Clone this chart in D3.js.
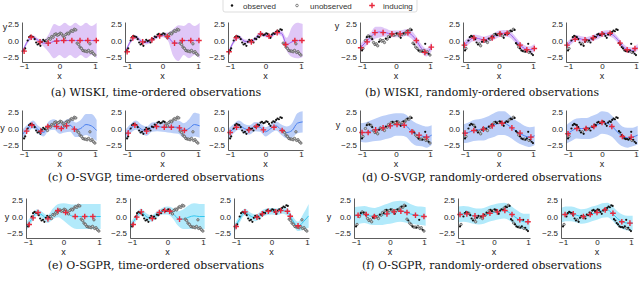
<!DOCTYPE html>
<html>
<head>
<meta charset="utf-8">
<script src="https://cdn.jsdelivr.net/npm/d3@7"></script>
<style>
  body { margin: 0; background: #fff; }
  svg { display: block; }
  .axis text { font-family: "Liberation Sans", Arial, sans-serif; font-size: 8px; fill: #222; }
  .axis path, .axis line { stroke: #333; stroke-width: 0.8; }
  .lab { font-family: "Liberation Sans", Arial, sans-serif; font-size: 9px; fill: #222; }
  .cap { font-family: "DejaVu Serif", serif; font-size: 10.5px; fill: #111; }
  .leg { font-family: "Liberation Sans", Arial, sans-serif; font-size: 8px; fill: #333; }
</style>
</head>
<body>
<svg id="chart" width="640" height="292"></svg>
<script>
const width = 640;
const height = 292;

// shared data set (x, y), sorted by x
const pointX = [-1.00,-0.97,-0.90,-0.86,-0.82,-0.78,-0.74,-0.70,-0.66,-0.62,-0.58,-0.54,-0.50,-0.46,-0.42,-0.38,-0.34,
  -0.30,-0.26,-0.22,-0.18,-0.14,-0.10,-0.06,-0.02,0.02,0.06,0.10,0.14,0.18,0.22,0.26,0.30,0.34,0.38,0.42,0.46,
  0.50,0.54,0.58,0.62,0.66,0.70,0.74,0.78,0.82,0.86,0.88,0.92,0.96,1.00];
const pointY = [-1.5,-1.2,0.0,0.5,0.7,0.6,0.5,0.2,-0.3,-0.6,-0.5,-0.8,-0.2,0.1,-0.1,0.0,-0.3,
  0.3,0.2,0.6,0.5,0.9,1.0,0.8,0.9,1.1,1.0,0.7,0.4,0.9,1.1,1.0,1.3,1.5,1.4,1.7,1.6,
  -0.4,-0.6,-1.0,-1.2,-1.5,-1.6,-1.6,-1.7,-1.5,-0.5,-1.8,-1.7,-2.0,-2.2];

// time-ordered panels: observed while x <= cutoff
const timeCutoffs = [-0.42, 0.08, 0.48];
// randomly-ordered panels: indices already observed
const randomObserved = [
  [0,3,5,7,12,17,20,22,25,28,30,33,36,38,41,44,46,49],
  [0,2,3,4,5,7,8,9,12,13,15,17,19,20,22,23,25,26,28,29,30,31,33,34,36,37,38,40,41,42,44,45,46,48,49,50],
  [0,2,3,4,5,6,7,8,9,11,12,13,15,16,17,18,19,20,21,22,23,24,25,26,27,28,29,30,31,32,33,34,35,36,37,38,39,40,41,42,43,44,45,46,48,49,50]
];

// posterior mean / band half-width at these x knots
const knotX = [-1.05,-0.9,-0.75,-0.6,-0.45,-0.3,-0.15,0,0.15,0.3,0.45,0.6,0.75,0.9,1.05];

const meanA = [
  [-1.8,-0.1,0.5,0.0,-0.4,-0.4,-0.1,0.0,0.0,0.0,0.0,0.0,0.0,0.0,0.0],
  [-1.8,-0.1,0.5,-0.1,-0.3,0.1,0.6,0.8,0.6,-0.3,-0.4,0.0,0.0,0.0,0.0],
  [-1.9,-0.2,0.5,-0.1,-0.2,0.2,1.0,0.8,0.6,1.2,1.1,-0.6,-0.2,0.0,0.0]];
const sdA = [
  [0.3,0.3,0.3,0.3,0.5,1.4,2.6,2.2,2.7,2.2,2.7,2.2,2.7,2.2,2.7],
  [0.3,0.3,0.3,0.3,0.3,0.3,0.3,0.3,0.6,2.0,2.7,2.2,2.7,2.2,2.7],
  [0.3,0.3,0.3,0.3,0.3,0.3,0.3,0.3,0.3,0.3,0.4,1.0,2.3,2.7,2.5]];
const meanB = [
  [-1.1,-0.3,0.5,1.2,1.3,1.2,1.0,1.0,1.05,1.2,0.9,0.0,-1.2,-1.8,-0.9],
  [-0.8,-0.1,0.4,0.3,0.1,0.3,0.6,1.0,1.1,1.0,0.3,-0.6,-1.2,-1.4,-1.1],
  [-0.8,-0.1,0.4,0.2,0.1,0.3,0.6,1.0,1.1,0.9,0.2,-0.8,-1.4,-1.5,-1.0]];
const sdB = [
  [0.6,0.6,0.7,0.9,0.8,0.6,0.5,0.5,0.5,0.5,0.6,0.6,0.6,0.6,0.7],
  [0.6,0.5,0.5,0.5,0.5,0.5,0.5,0.5,0.5,0.5,0.5,0.5,0.5,0.5,0.6],
  [0.5,0.45,0.45,0.45,0.45,0.45,0.45,0.45,0.45,0.45,0.45,0.45,0.45,0.45,0.5]];
const meanC = [
  [-0.9,0.0,0.6,-0.2,-0.6,0.4,0.6,0.0,0.3,0.5,-0.2,0.0,0.6,0.4,-0.3],
  [-1.0,0.0,0.5,-0.1,-0.4,0.2,0.3,0.2,0.2,0.2,0.2,-0.3,0.0,0.6,0.4],
  [-0.8,0.0,0.5,0.0,-0.2,0.3,0.2,-0.5,0.0,0.4,-0.2,-0.6,-0.3,0.8,1.0]];
const sdC = [
  [0.7,0.6,0.6,0.6,0.6,0.7,0.8,0.8,0.9,1.0,1.1,1.3,1.6,1.8,1.6],
  [0.8,0.7,0.7,0.7,0.7,0.7,0.7,0.7,0.8,0.9,1.0,1.1,1.4,1.8,1.8],
  [0.8,0.7,0.7,0.7,0.7,0.7,0.7,0.7,0.7,0.7,0.8,0.9,1.1,1.5,1.6]];
const meanD = [
  [-0.6,-0.6,-0.4,-0.2,0.0,0.2,0.4,0.6,0.6,0.4,-0.4,-0.9,-1.1,-1.3,-1.0],
  [-0.8,-0.6,-0.3,-0.2,-0.1,0.2,0.5,0.8,0.8,0.4,-0.2,-0.7,-1.1,-1.3,-1.1],
  [-0.9,-0.4,0.0,0.0,0.0,0.2,0.5,0.9,0.8,0.3,-0.5,-1.2,-1.4,-1.3,-1.0]];
const sdD = [
  [1.4,1.5,1.6,1.7,1.8,1.8,1.8,1.7,1.7,1.7,1.7,1.7,1.6,1.6,1.5],
  [1.4,1.5,1.6,1.6,1.7,1.7,1.8,1.8,1.8,1.7,1.6,1.6,1.5,1.5,1.4],
  [1.4,1.5,1.5,1.6,1.6,1.7,1.7,1.7,1.7,1.6,1.6,1.5,1.5,1.4,1.4]];
const meanE = [
  [-1.5,-0.4,0.6,0.2,-0.4,0.4,0.9,0.7,0.3,0.0,0.0,0.0,0.0,0.0,0.0],
  [-1.5,-0.3,0.7,0.0,-0.3,0.3,0.8,0.9,0.5,-0.3,-0.4,-0.1,0.1,0.0,0.0],
  [-1.8,-0.4,0.7,0.1,-0.2,0.3,0.7,0.8,0.7,0.9,0.7,-0.6,-1.5,-0.8,0.1]];
const sdE = [
  [0.6,0.5,0.5,0.5,0.6,0.8,1.0,1.3,1.6,1.8,1.9,1.9,1.9,1.9,1.9],
  [0.6,0.5,0.5,0.5,0.5,0.5,0.5,0.6,0.8,1.1,1.5,1.8,1.9,1.9,1.9],
  [0.6,0.5,0.5,0.5,0.5,0.5,0.5,0.5,0.5,0.5,0.6,0.6,0.7,1.2,1.8]];
const meanF = [
  [0.1,0.2,0.3,0.1,0.0,0.1,0.3,0.5,0.7,0.8,0.7,0.4,0.2,0.1,0.0],
  [0.3,0.4,0.3,0.1,0.0,0.1,0.4,0.6,0.8,0.9,0.6,0.0,-0.5,-0.8,-0.8],
  [0.2,0.4,0.4,0.2,0.0,0.1,0.4,0.6,0.9,1.0,0.5,-0.3,-0.8,-1.0,-1.0]];
const sdF = [
  [1.3,1.3,1.3,1.3,1.3,1.4,1.5,1.6,1.6,1.6,1.6,1.5,1.4,1.4,1.4],
  [1.2,1.2,1.2,1.2,1.2,1.2,1.2,1.2,1.2,1.2,1.2,1.2,1.2,1.2,1.2],
  [1.1,1.1,1.1,1.1,1.1,1.1,1.1,1.1,1.1,1.1,1.1,1.1,1.1,1.1,1.1]];

// inducing points [x, y]
const indA = [
  [[-1.0,-1.6],[-0.8,0.5],[-0.55,-0.2],[-0.32,-0.4],[-0.08,-0.1],[0.12,0.0],[0.35,0.0],[0.58,0.0],[0.8,0.0],[1.04,0.0]],
  [[-1.0,-1.7],[-0.84,0.4],[-0.56,-0.2],[-0.3,0.1],[-0.08,0.7],[0.14,0.6],[0.34,-0.4],[0.56,0.0],[0.8,0.0],[1.03,0.0]],
  [[-1.03,-1.7],[-0.83,0.4],[-0.4,-0.2],[-0.14,1.0],[0.1,0.65],[0.33,1.2],[0.57,-0.6],[0.83,0.0],[1.03,0.0]]];
const indB = [
  [[-1.04,-1.1],[-0.85,-0.2],[-0.62,1.2],[-0.38,1.2],[-0.12,1.0],[0.12,1.0],[0.35,1.2],[0.6,0.0],[0.85,-1.8],[1.04,-1.0]],
  [[-1.02,-0.7],[-0.74,0.4],[-0.45,0.1],[-0.2,0.4],[0.03,1.0],[0.24,1.1],[0.62,-0.7],[0.82,-1.4],[1.04,-1.2]],
  [[-1.03,-0.7],[-0.79,0.2],[-0.5,0.1],[-0.26,0.4],[0.0,1.0],[0.24,1.1],[0.53,-0.4],[0.74,-1.4],[0.97,-1.2]]];
const indC = [
  [[-0.93,-0.4],[-0.78,0.5],[-0.53,-0.4],[-0.33,0.3],[-0.08,0.3],[0.05,0.0],[0.2,0.4],[0.42,-0.1]],
  [[-0.97,-0.7],[-0.78,0.5],[-0.45,-0.4],[-0.17,0.3],[0.05,0.2],[0.25,0.2],[0.48,0.1],[0.62,-0.3]],
  [[-1.0,-0.6],[-0.82,0.2],[-0.47,-0.2],[-0.26,0.3],[-0.06,-0.2],[0.24,0.2],[0.47,-0.3]]];
const indD = [
  [[-1.0,-0.6],[-0.82,-0.6],[-0.6,-0.2],[-0.38,0.1],[-0.17,0.4],[0.03,0.6],[0.24,0.5],[0.47,-0.5],[0.68,-1.0],[0.9,-1.3]],
  [[-1.0,-0.7],[-0.74,-0.3],[-0.46,-0.1],[-0.2,0.4],[0.09,0.8],[0.38,0.1],[0.62,-0.7],[0.94,-1.3]],
  [[-1.0,-0.8],[-0.74,0.0],[-0.47,0.0],[-0.24,0.3],[0.0,0.9],[0.29,0.3],[0.6,-1.2],[0.86,-1.3]]];
const indE = [
  [[-0.97,-1.2],[-0.86,-0.2],[-0.72,0.6],[-0.44,-0.35],[-0.16,0.9],[0.06,0.6],[0.33,0.0],[0.6,0.0],[0.83,0.0]],
  [[-0.97,-1.2],[-0.87,-0.1],[-0.74,0.7],[-0.43,-0.3],[-0.23,0.6],[-0.08,0.9],[0.06,0.8],[0.34,-0.4]],
  [[-1.0,-1.5],[-0.75,0.7],[-0.41,-0.1],[-0.26,0.4],[-0.09,0.8],[0.12,0.7],[0.26,0.9],[0.45,0.8],[0.53,0.05],[0.75,-1.4]]];
const indF = [
  [[-0.94,0.2],[-0.7,0.3],[-0.46,0.0],[-0.09,0.4],[0.12,0.7],[0.32,0.8],[0.5,0.6],[0.75,0.2],[1.0,0.0]],
  [[-1.0,0.3],[-0.8,0.4],[-0.56,0.1],[-0.32,0.1],[-0.12,0.5],[0.1,0.7],[0.32,0.9],[0.53,0.3],[0.76,-0.5],[1.0,-0.8]],
  [[-0.94,0.3],[-0.7,0.4],[-0.4,0.0],[-0.2,0.3],[0.0,0.6],[0.24,1.0],[0.47,0.5],[0.73,-0.8],[0.97,-1.0]]];

const captions = [
  "(a) WISKI, time-ordered observations", "(b) WISKI, randomly-ordered observations",
  "(c) O-SVGP, time-ordered observations", "(d) O-SVGP, randomly-ordered observations",
  "(e) O-SGPR, time-ordered observations", "(f) O-SGPR, randomly-ordered observations"];
const bandColors = ["#dfc7f7", "#bccff8", "#b2eafb"];
const lineColors = ["#9a5ff0", "#4a80ef", "#33c8f0"];
const legendLabels = ["observed", "unobserved", "inducing"];

// layout per row: plot top, left spines for the two groups, "y" label spots
const rows = [
  { top: 22, left: [22, 125, 228], right: [360, 463, 566], yLab: [[5, 30], [337, 29]], cap: 95.5, mean: [meanA, meanB], sd: [sdA, sdB], ind: [indA, indB] },
  { top: 110, left: [22, 125, 228], right: [360, 463, 566], yLab: [[2.5, 131], [338, 128]], cap: 180.5, mean: [meanC, meanD], sd: [sdC, sdD], ind: [indC, indD] },
  { top: 198, left: [26, 130, 234], right: [354, 458, 561], yLab: [[7, 220], [329, 220]], cap: 268.5, mean: [meanE, meanF], sd: [sdE, sdF], ind: [indE, indF] },
];
const plotH = 40;
const widths = [75, 72];
const capCenters = [156, 482];
const capPerChar = 5.85;

const svg = d3.select("#chart").attr("viewBox", [0, 0, width, height]);
const defs = svg.append("defs");
let clipCount = 0;

function drawPanel(x0, w, top, mean, sd, ind, isObserved, ci, yLab) {
  const x = d3.scaleLinear().domain([-1.06, 1.06]).range([x0, x0 + w]);
  const y = d3.scaleLinear().domain([-3.25, 2.8]).range([top + plotH, top]);
  const id = "clip" + clipCount++;
  defs.append("clipPath").attr("id", id).append("rect")
    .attr("x", x0).attr("y", top).attr("width", w).attr("height", plotH);
  const g = svg.append("g");
  const inner = g.append("g").attr("clip-path", `url(#${id})`);

  inner.append("path")
    .datum(knotX)
    .attr("fill", bandColors[ci])
    .attr("d", d3.area()
      .x((d) => x(d))
      .y0((d, i) => y(mean[i] - sd[i]))
      .y1((d, i) => y(mean[i] + sd[i]))
      .curve(d3.curveMonotoneX));
  inner.append("path")
    .datum(knotX)
    .attr("fill", "none")
    .attr("stroke", lineColors[ci])
    .attr("stroke-width", 1)
    .attr("d", d3.line()
      .x((d) => x(d))
      .y((d, i) => y(mean[i]))
      .curve(d3.curveMonotoneX));

  const pts = pointX.map((px, i) => ({ x: px, y: pointY[i], obs: isObserved(i) }));
  g.append("g").selectAll("circle")
    .data(pts.filter((d) => !d.obs))
    .join("circle")
    .attr("cx", (d) => x(d.x)).attr("cy", (d) => y(d.y)).attr("r", 1.2)
    .attr("fill", "#c8c8c8").attr("stroke", "#4a4a4a").attr("stroke-width", 0.7);
  g.append("g").selectAll("circle")
    .data(pts.filter((d) => d.obs))
    .join("circle")
    .attr("cx", (d) => x(d.x)).attr("cy", (d) => y(d.y)).attr("r", 1.1)
    .attr("fill", "#111");
  g.append("g").selectAll("path")
    .data(ind)
    .join("path")
    .attr("d", (d) => `M${x(d[0]) - 2.8},${y(d[1])}h5.6M${x(d[0])},${y(d[1]) - 2.8}v5.6`)
    .attr("stroke", "#e8283c").attr("stroke-width", 1.4);

  g.append("g").attr("class", "axis")
    .attr("transform", `translate(${x0},0)`)
    .call(d3.axisLeft(y).tickValues([-2.5, 0, 2.5]).tickFormat(d3.format(".1f")).tickSize(0).tickSizeOuter(0).tickPadding(3));
  g.append("g").attr("class", "axis")
    .attr("transform", `translate(0,${top + plotH})`)
    .call(d3.axisBottom(x).tickValues([-1, 0, 1]).tickFormat(d3.format("d")).tickSize(0).tickSizeOuter(0).tickPadding(1.5));
  g.append("text").attr("class", "lab").attr("x", x(0)).attr("y", top + plotH + 17)
    .attr("text-anchor", "middle").text("x");
  if (yLab !== null) {
    g.append("text").attr("class", "lab").attr("x", yLab[0]).attr("y", yLab[1])
      .attr("text-anchor", "middle").text("y");
  }
}

rows.forEach((row, r) => {
  [row.left, row.right].forEach((spines, side) => {
    spines.forEach((x0, k) => {
      const obsFn = side === 0
        ? (i) => pointX[i] <= timeCutoffs[k]
        : (i) => randomObserved[k].includes(i);
      drawPanel(x0, widths[side], row.top, row.mean[side][k], row.sd[side][k], row.ind[side][k],
        obsFn, r, k === 0 ? row.yLab[side] : null);
    });
    const label = captions[r * 2 + side];
    svg.append("text").attr("class", "cap")
      .attr("x", capCenters[side]).attr("y", row.cap)
      .attr("text-anchor", "middle")
      .attr("textLength", label.length * capPerChar)
      .attr("lengthAdjust", "spacingAndGlyphs")
      .text(label);
  });
});

// legend
const leg = svg.append("g");
leg.append("rect").attr("x", 223).attr("y", -2).attr("width", 194).attr("height", 14)
  .attr("rx", 2).attr("fill", "#fff").attr("stroke", "#d4d4d4").attr("stroke-width", 0.8);
leg.append("circle").attr("cx", 232).attr("cy", 5.5).attr("r", 1.2).attr("fill", "#111");
leg.append("circle").attr("cx", 297).attr("cy", 5.5).attr("r", 1.3)
  .attr("fill", "#fff").attr("stroke", "#555").attr("stroke-width", 0.7);
leg.append("path").attr("d", "M369.2,5.5h5.6M372,2.7v5.6").attr("stroke", "#e8283c").attr("stroke-width", 1.4);
[243, 310, 383].forEach((lx, i) => {
  leg.append("text").attr("class", "leg").attr("x", lx).attr("y", 8.5).text(legendLabels[i]);
});
</script>
</body>
</html>
